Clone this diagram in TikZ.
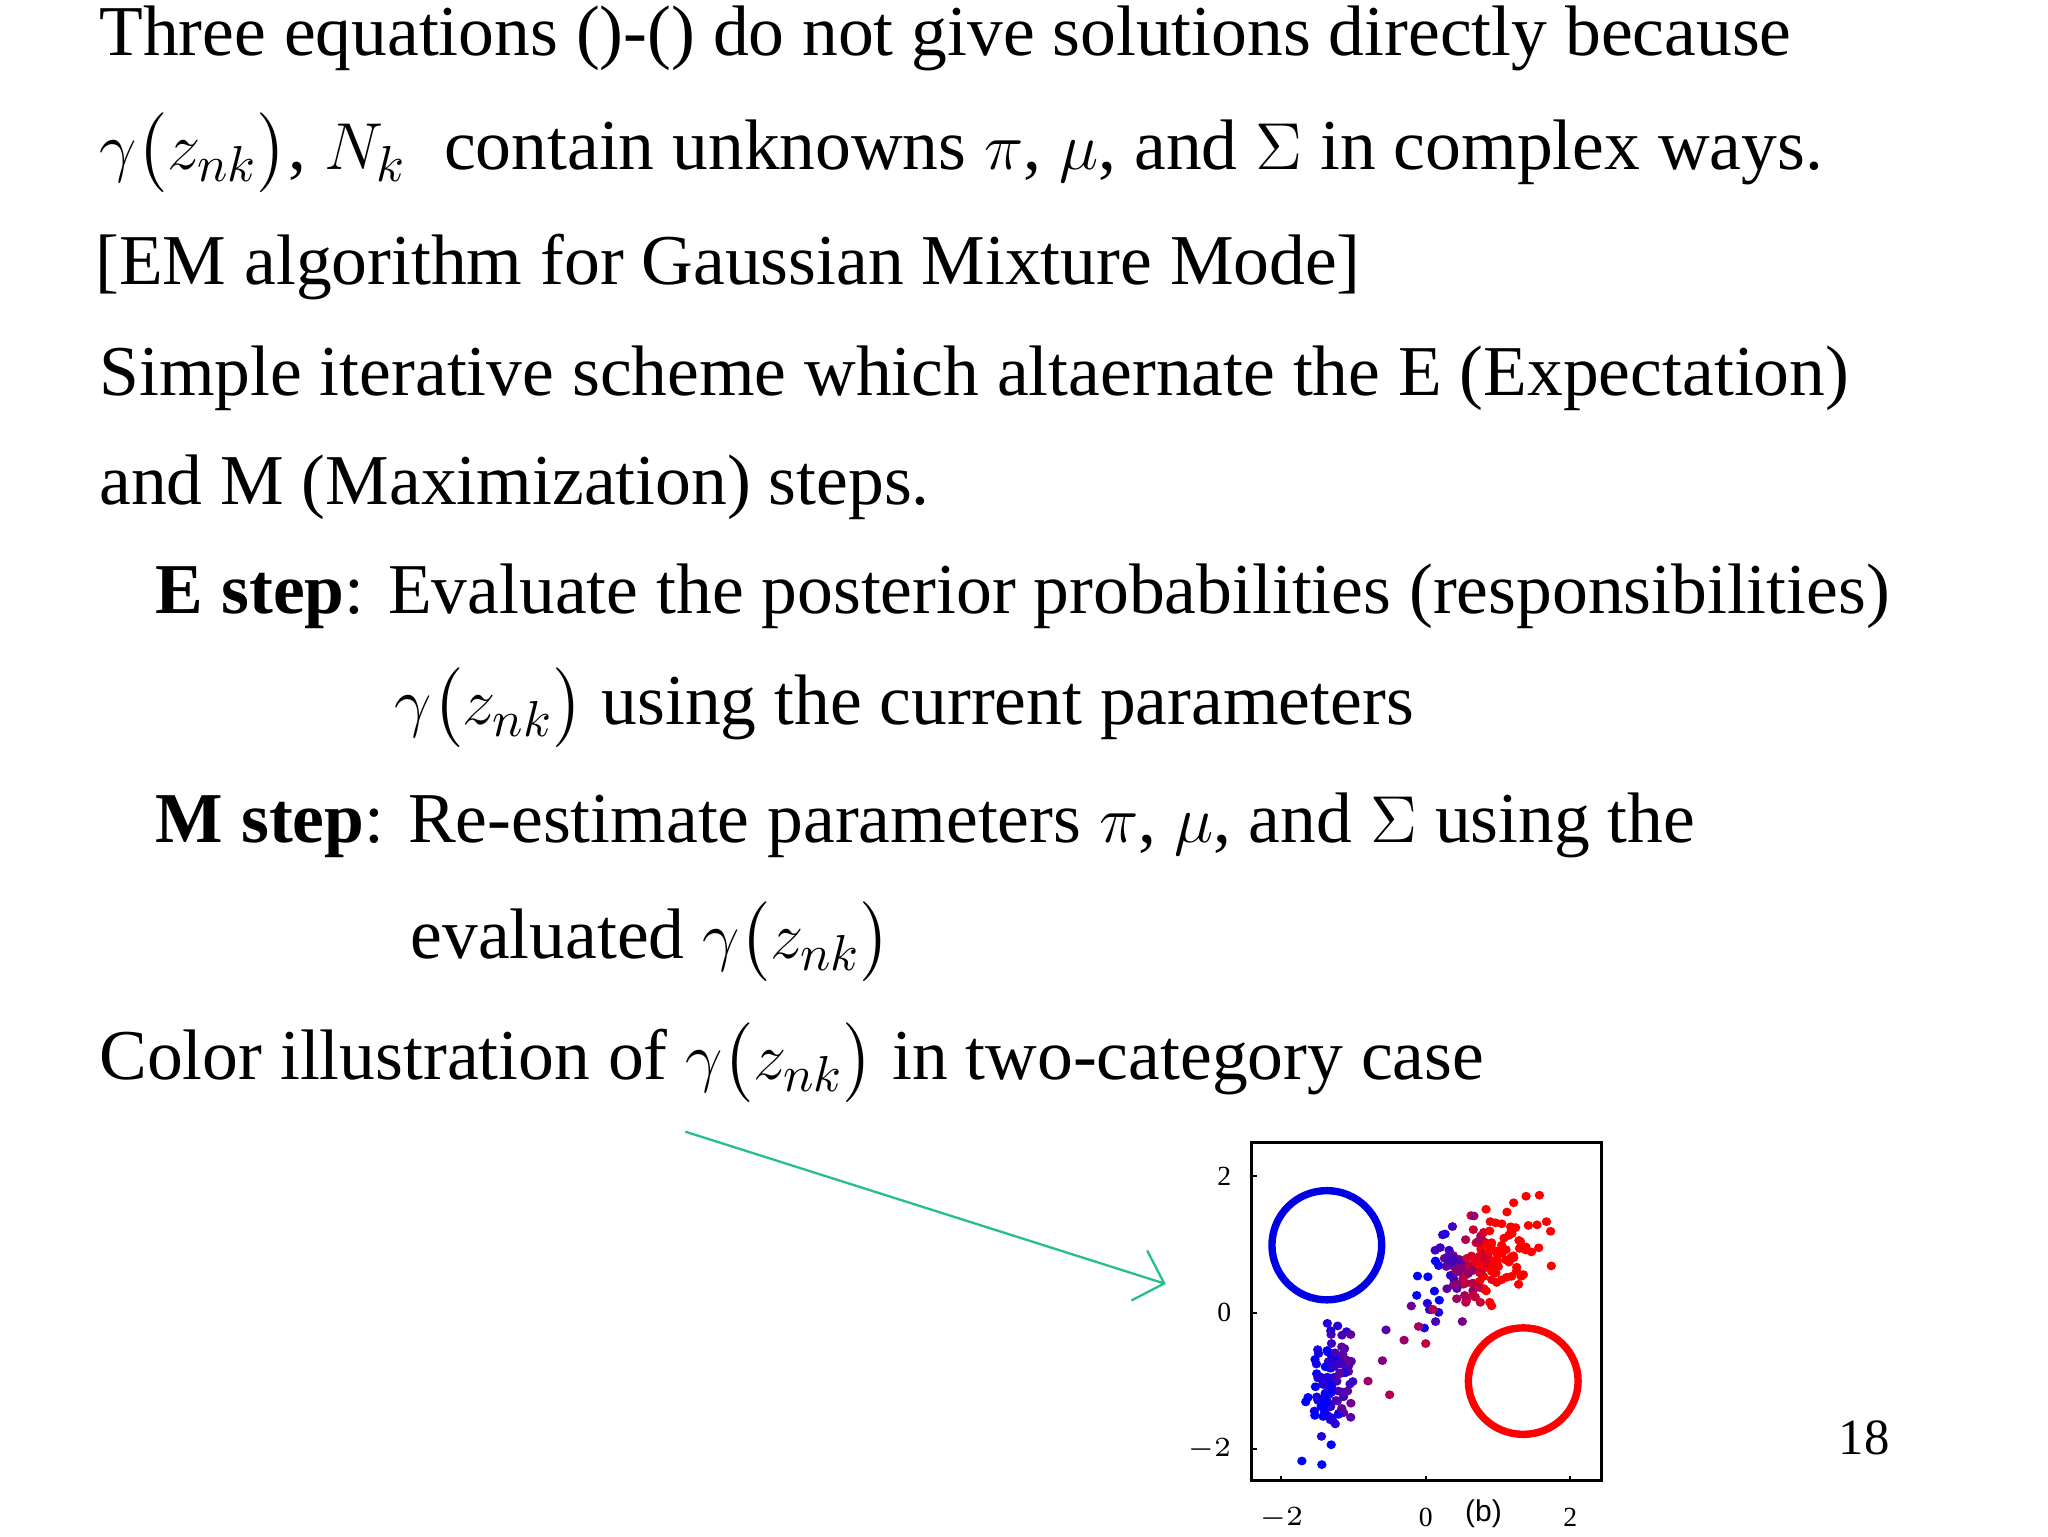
\documentclass[tikz,border=0pt]{standalone}
\usetikzlibrary{arrows.meta}
\usepackage{fontspec}
\setmainfont{Liberation Serif}
\setsansfont{Liberation Sans}
\usepackage{amsmath}
\begin{document}
\begin{tikzpicture}[x=1cm,y=1cm,
  line/.style={anchor=base west,inner sep=0pt,font=\fontsize{15.5}{18}\selectfont}]
\useasboundingbox (0,0) rectangle (15.6,-11.7);
\newcommand{\gz}{\gamma\bigl(z_{nk}\bigr)}
\node[line] (l1) at (0.75,-0.42) {Three equations ()-() do not give solutions directly because};
\node[line] (l2) at (0.75,-1.29) {$\gz$, $N_k$\; contain unknowns $\pi$, $\mu$, and $\Sigma$ in complex ways.};
\node[line] (l3) at (0.72,-2.17) {[EM algorithm for Gaussian Mixture Mode]};
\node[line] (l4) at (0.75,-3.01) {Simple iterative scheme which altaernate the E (Expectation)};
\node[line] (l5) at (0.75,-3.84) {and M (Maximization) steps.};
\node[line] (l6) at (1.18,-4.67) {\textbf{E step}: Evaluate the posterior probabilities (responsibilities)};
\node[line] (l7) at (3.0,-5.52) {$\gz$ using the current parameters};
\node[line] (l8) at (1.18,-6.42) {\textbf{M step}: Re-estimate parameters $\pi$, $\mu$, and $\Sigma$ using the};
\node[line] (l9) at (3.12,-7.3) {evaluated $\gz$};
\node[line] (l10) at (0.75,-8.22) {Color illustration of $\gz$ in two-category case};
\node[anchor=base,font=\fontsize{11}{13}\selectfont] (pg) at (14.2,-11.08) {18};
\coordinate (arrS) at (5.22,-8.62);
\coordinate (arrE) at (8.88,-9.78);
\draw[-{Straight Barb[length=2mm]},color={rgb,255:red,40;green,190;blue,140},line width=0.5pt] (arrS) -- (arrE);
\draw[line width=0.6pt] (9.53,-8.7) rectangle (12.2,-11.28);
\begin{scope}[shift={(10.86,-10.0)},x=0.55cm,y=0.52cm]
 \foreach \t/\l in {-2/$-2$,0/0,2/2}{
   \draw (\t,-2.47) -- ++(0,0.08);
   \node[font=\fontsize{6}{7}\selectfont,anchor=north] at (\t,-2.62) {\l};
   \draw (-2.42,\t) -- ++(0.08,0);
   \node[font=\fontsize{6}{7}\selectfont,anchor=east] at (-2.47,\t) {\l};
 }
 \node[font=\sffamily\fontsize{6.5}{8}\selectfont] at (0.8,-2.95) {(b)};
 \draw[blue!90!black,line width=1.6pt] (-1.37,0.99) ellipse (0.76 and 0.8);
 \draw[red,line width=1.6pt] (1.35,-1.0) ellipse (0.76 and 0.78);
 \pgfmathsetseed{7}
 \foreach \i in {1,...,170}{
  \pgfmathsetmacro\a{(rand+rand+rand)/3*1.2}
  \pgfmathsetmacro\b{(rand+rand+rand)/3*1.0}
  \pgfmathsetmacro\x{0.75+\a}
  \pgfmathsetmacro\y{0.7+0.35*\a+\b}
  \pgfmathtruncatemacro\p{min(100,max(0,55+(\x-0.5)*120+rand*20))}
  \fill[red!\p!blue] (\x,\y) circle (0.065);
 }
 \foreach \i in {1,...,110}{
  \pgfmathsetmacro\a{(rand+rand+rand)/3*0.45}
  \pgfmathsetmacro\b{(rand+rand+rand)/3*1.3}
  \pgfmathsetmacro\x{-1.3+\a+0.15*\b}
  \pgfmathsetmacro\y{-1.05+\b}
  \pgfmathtruncatemacro\p{min(100,max(0,15+(\x+1.3)*80+rand*15))}
  \fill[red!\p!blue] (\x,\y) circle (0.065);
 }
 \foreach \x/\y/\p in {-0.3/-0.4/60,-0.1/-0.2/65,-0.6/-0.7/50,-0.55/-0.25/35,0.1/0.05/70,-0.2/0.1/40,0.0/-0.45/75,-0.8/-1.0/60,-0.5/-1.2/70}
  \fill[red!\p!blue] (\x,\y) circle (0.065);
\end{scope}
\end{tikzpicture}
\end{document}
